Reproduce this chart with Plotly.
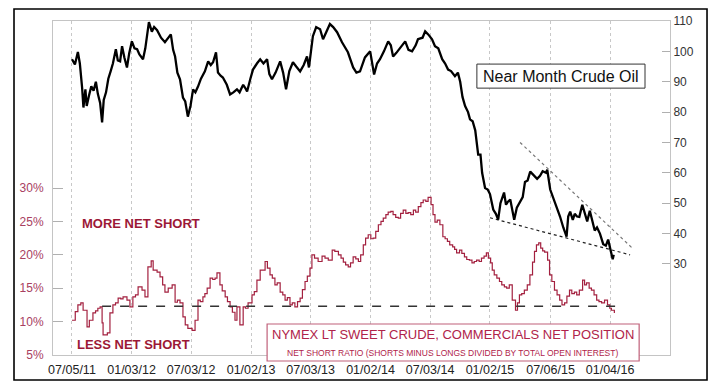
import plotly.graph_objects as go
import pandas as pd

# ---------------- data ----------------
tick_dates = ["2011-07-05", "2012-01-03", "2012-07-03", "2013-01-02", "2013-07-03",
              "2014-01-02", "2014-07-03", "2015-01-02", "2015-07-06", "2016-01-04"]
tick_labels = ["07/05/11", "01/03/12", "07/03/12", "01/02/13", "07/03/13",
               "01/02/14", "07/03/14", "01/02/15", "07/06/15", "01/04/16"]

oil_dates = ["2011-07-05","2011-07-14","2011-07-23","2011-07-29","2011-08-05","2011-08-09","2011-08-15","2011-08-19","2011-08-26","2011-09-02",
"2011-09-09","2011-09-16","2011-09-22","2011-09-29","2011-10-05","2011-10-10","2011-10-17","2011-10-24","2011-10-31","2011-11-07",
"2011-11-16","2011-11-22","2011-11-29","2011-12-05","2011-12-12","2011-12-20","2011-12-27","2012-01-04","2012-01-12","2012-01-20",
"2012-01-27","2012-02-07","2012-02-14","2012-02-25","2012-03-05","2012-03-12","2012-03-21","2012-04-02","2012-04-14","2012-04-22",
"2012-05-02","2012-05-09","2012-05-15","2012-05-22","2012-05-30","2012-06-08","2012-06-15","2012-06-23","2012-07-01","2012-07-09",
"2012-07-16","2012-07-24","2012-08-02","2012-08-14","2012-08-24","2012-09-01","2012-09-08","2012-09-17","2012-09-23","2012-10-01",
"2012-10-08","2012-10-20","2012-10-30","2012-11-09","2012-11-20","2012-11-28","2012-12-09","2012-12-15","2012-12-21","2012-12-31",
"2013-01-08","2013-01-20","2013-01-30","2013-02-09","2013-02-20","2013-02-27","2013-03-07","2013-03-18","2013-04-01","2013-04-10",
"2013-04-19","2013-04-29","2013-05-10","2013-05-20","2013-06-01","2013-06-12","2013-06-22","2013-06-28","2013-07-10","2013-07-20",
"2013-08-01","2013-08-10","2013-08-20","2013-08-31","2013-09-10","2013-09-22","2013-10-07","2013-10-25","2013-11-10","2013-11-20",
"2013-12-01","2013-12-16","2014-01-01","2014-01-13","2014-01-22","2014-01-31","2014-02-12","2014-02-25","2014-03-05","2014-03-12",
"2014-03-22","2014-04-05","2014-04-18","2014-04-28","2014-05-09","2014-05-20","2014-05-27","2014-06-10","2014-06-18","2014-06-28",
"2014-07-09","2014-07-18","2014-07-28","2014-08-09","2014-08-18","2014-08-27","2014-09-05","2014-09-17","2014-09-26","2014-10-03",
"2014-10-10","2014-10-18","2014-10-27","2014-11-02","2014-11-10","2014-11-18","2014-11-27","2014-12-04","2014-12-09","2014-12-18",
"2014-12-26","2015-01-02","2015-01-12","2015-01-20","2015-01-27","2015-02-03","2015-02-14","2015-02-20","2015-02-26","2015-03-05",
"2015-03-11","2015-03-17","2015-03-25","2015-04-04","2015-04-12","2015-04-19","2015-04-27","2015-05-05","2015-05-14","2015-05-26",
"2015-06-04","2015-06-12","2015-06-22","2015-06-26","2015-07-05","2015-07-12","2015-07-20","2015-07-28","2015-08-04","2015-08-14",
"2015-08-24","2015-08-29","2015-09-04","2015-09-12","2015-09-18","2015-09-25","2015-10-02","2015-10-11","2015-10-18","2015-10-26",
"2015-11-03","2015-11-10","2015-11-18","2015-11-25","2015-12-04","2015-12-14","2015-12-22","2015-12-29","2016-01-06","2016-01-12",
"2016-01-15"]
oil_values = [97.4,95.7,99.8,96.0,88.0,81.5,87.5,82.0,85.5,88.5,
87.0,90.0,86.0,83.0,76.6,84.0,86.5,91.0,93.4,96.0,
100.7,97.0,96.7,101.7,98.0,94.7,99.5,103.3,101.0,100.7,
99.0,97.4,101.0,109.6,106.5,108.0,107.0,104.5,103.0,104.0,
105.6,100.5,98.3,93.0,90.8,84.8,83.5,78.5,82.0,87.5,
86.5,88.4,91.0,93.4,96.7,95.5,96.4,99.7,93.0,92.0,
91.4,89.0,85.8,86.5,87.5,86.5,89.0,88.0,86.8,91.0,
94.0,96.0,97.4,96.0,97.4,92.5,90.8,93.0,96.7,93.0,
87.5,93.5,96.4,95.0,93.4,95.5,98.3,94.7,105.0,108.0,
107.3,104.0,106.5,109.0,108.0,106.3,103.0,99.7,94.7,93.0,
93.4,98.0,100.0,92.4,96.0,97.4,100.0,103.3,102.0,98.3,
99.5,101.5,103.3,100.5,100.0,102.0,104.0,104.5,106.6,105.5,
104.0,101.7,101.0,97.4,96.0,94.0,93.5,91.8,93.0,90.0,
85.0,82.0,80.0,77.6,77.0,74.0,66.0,66.0,60.0,55.0,
54.5,53.0,47.9,46.5,44.6,50.0,53.5,49.5,50.5,51.2,
48.0,44.5,48.5,50.5,52.0,57.0,57.5,60.4,59.5,58.0,
59.0,60.5,60.0,61.0,54.5,52.5,50.2,47.5,45.6,42.0,
39.0,45.6,47.2,44.5,46.5,45.6,45.5,49.5,46.5,44.0,
47.5,44.5,41.0,42.0,40.0,36.5,36.0,38.0,34.0,31.5,
33.0]

ratio_dates = ["2011-07-05","2011-07-15","2011-07-23","2011-08-01","2011-08-08","2011-08-20","2011-08-27","2011-09-07","2011-09-15","2011-09-22",
"2011-09-29","2011-10-05","2011-10-08","2011-10-21","2011-10-29","2011-11-07","2011-11-15","2011-11-23","2011-12-01","2011-12-08",
"2011-12-20","2011-12-29","2012-01-07","2012-01-15","2012-01-23","2012-02-04","2012-02-13","2012-02-22","2012-03-03","2012-03-09",
"2012-03-21","2012-03-30","2012-04-07","2012-04-14","2012-04-24","2012-05-06","2012-05-15","2012-05-22","2012-05-30","2012-06-08",
"2012-06-15","2012-06-23","2012-07-06","2012-07-15","2012-07-24","2012-07-31","2012-08-08","2012-08-14","2012-08-21","2012-08-30",
"2012-09-07","2012-09-14","2012-09-20","2012-09-29","2012-10-06","2012-10-15","2012-10-22","2012-10-30","2012-11-06","2012-11-14",
"2012-11-20","2012-11-29","2012-12-09","2012-12-16","2012-12-24","2013-01-05","2013-01-12","2013-01-20","2013-01-30","2013-02-05",
"2013-02-14","2013-02-21","2013-03-01","2013-03-08","2013-03-16","2013-03-23","2013-04-01","2013-04-09","2013-04-16","2013-04-23",
"2013-05-01","2013-05-08","2013-05-16","2013-05-24","2013-06-01","2013-06-08","2013-06-16","2013-06-23","2013-07-01","2013-07-07",
"2013-07-15","2013-07-26","2013-08-07","2013-08-16","2013-08-26","2013-09-07","2013-09-15","2013-09-26","2013-10-04","2013-10-11",
"2013-10-18","2013-10-26","2013-11-02","2013-11-10","2013-11-18","2013-11-26","2013-12-03","2013-12-11","2013-12-18","2013-12-26",
"2014-01-03","2014-01-10","2014-01-18","2014-01-26","2014-02-03","2014-02-10","2014-02-18","2014-02-25","2014-03-05","2014-03-12",
"2014-03-20","2014-03-28","2014-04-04","2014-04-12","2014-04-20","2014-04-27","2014-05-05","2014-05-13","2014-05-20","2014-05-28",
"2014-06-05","2014-06-12","2014-06-20","2014-06-27","2014-07-06","2014-07-12","2014-07-18","2014-07-25","2014-08-02","2014-08-11",
"2014-08-18","2014-08-25","2014-09-01","2014-09-10","2014-09-16","2014-09-22","2014-10-01","2014-10-08","2014-10-16","2014-10-23",
"2014-10-31","2014-11-08","2014-11-15","2014-11-22","2014-11-30","2014-12-07","2014-12-15","2014-12-22","2014-12-28","2015-01-04",
"2015-01-09","2015-01-15","2015-01-23","2015-01-31","2015-02-07","2015-02-15","2015-02-22","2015-03-02","2015-03-11","2015-03-21",
"2015-03-27","2015-04-02","2015-04-09","2015-04-17","2015-04-26","2015-05-04","2015-05-12","2015-05-18","2015-05-24","2015-05-31",
"2015-06-06","2015-06-12","2015-06-18","2015-06-27","2015-07-03","2015-07-10","2015-07-18","2015-07-26","2015-08-03","2015-08-10",
"2015-08-18","2015-08-25","2015-09-02","2015-09-09","2015-09-17","2015-09-24","2015-10-02","2015-10-12","2015-10-18","2015-10-24",
"2015-11-01","2015-11-08","2015-11-16","2015-11-24","2015-12-01","2015-12-09","2015-12-18","2015-12-27","2016-01-03","2016-01-08",
"2016-01-17"]
ratio_values = [10.2,11.5,12.5,12.8,11.7,9.2,10.2,11.3,11.6,12.0,
12.2,9.8,8.0,8.3,11.3,12.5,12.8,13.5,13.4,13.7,
13.2,12.2,13.7,14.0,15.2,14.7,13.7,18.2,19.1,17.7,
17.4,16.7,15.5,14.4,15.0,15.5,12.9,13.2,12.8,10.7,
9.5,9.0,8.7,10.2,13.2,13.0,13.7,14.2,15.0,16.5,
16.3,16.5,17.3,15.5,14.6,13.7,13.0,12.2,11.4,10.2,
12.2,9.5,12.2,12.0,12.8,14.0,14.5,16.2,17.7,17.7,
19.0,18.0,17.0,16.5,15.5,15.8,14.4,14.0,13.2,13.6,
12.5,12.8,12.2,13.0,13.5,14.8,16.0,16.8,18.0,20.0,
19.5,19.0,19.8,19.5,19.2,20.7,20.5,20.0,19.5,18.9,
18.5,18.2,18.8,19.7,19.4,19.0,20.0,21.5,22.5,23.0,
22.4,22.5,23.5,24.5,25.0,25.5,26.0,26.4,26.5,26.0,
25.6,25.5,26.2,26.7,26.2,26.3,26.0,26.7,26.4,27.2,
27.8,28.2,28.0,28.6,27.5,26.0,24.9,25.2,24.5,22.7,
22.4,22.0,21.5,21.2,20.8,20.3,20.7,20.2,19.7,19.3,
19.2,18.8,19.0,19.2,19.0,19.5,19.8,20.3,19.5,18.8,
17.7,17.0,16.5,16.0,15.5,15.2,15.0,15.5,13.2,11.7,
12.8,14.0,14.2,14.7,15.5,17.0,18.9,20.5,21.5,21.8,
21.0,20.6,20.4,19.2,17.0,16.0,14.7,14.0,13.2,12.5,
12.8,13.8,14.7,14.2,14.4,14.0,14.7,16.2,15.5,15.8,
15.0,14.7,14.0,13.2,13.0,12.8,13.2,12.5,12.0,11.7,
11.3]

level_dates = ["2011-10-05", "2016-02-10"]
level_values = [12.3, 12.3]

upper_trend_dates = ["2015-04-04", "2016-03-11"]
upper_trend_values = [70.0, 35.3]
lower_trend_dates = ["2015-01-02", "2016-03-05"]
lower_trend_values = [45.2, 33.0]

left_ticks = [5, 10, 15, 20, 25, 30]
right_ticks = [30, 40, 50, 60, 70, 80, 90, 100, 110]

# ---------------- figure ----------------
FONT = "Arial, Liberation Sans, sans-serif"
RED = "#a3203f"

fig = go.Figure()
fig.add_trace(go.Scatter(x=pd.to_datetime(ratio_dates), y=ratio_values, mode="lines",
                         line=dict(color=RED, width=1.2, shape="hv"), yaxis="y"))
fig.add_trace(go.Scatter(x=pd.to_datetime(level_dates), y=level_values, mode="lines",
                         line=dict(color="#333333", width=1.3, dash="dash"), yaxis="y"))
fig.add_trace(go.Scatter(x=pd.to_datetime(upper_trend_dates), y=upper_trend_values, mode="lines",
                         line=dict(color="#777777", width=1.2, dash="dot"), yaxis="y2"))
fig.add_trace(go.Scatter(x=pd.to_datetime(lower_trend_dates), y=lower_trend_values, mode="lines",
                         line=dict(color="#222222", width=1.2, dash="dot"), yaxis="y2"))
fig.add_trace(go.Scatter(x=pd.to_datetime(oil_dates), y=oil_values, mode="lines",
                         line=dict(color="black", width=2.3), yaxis="y2"))

fig.update_layout(
    width=712, height=392,
    margin=dict(l=53, r=42, t=21, b=37),
    paper_bgcolor="white", plot_bgcolor="white",
    showlegend=False, hovermode=False,
    font=dict(family=FONT),
    xaxis=dict(type="date", range=["2011-05-08", "2016-07-05"],
               tickvals=pd.to_datetime(tick_dates), ticktext=tick_labels,
               showgrid=True, gridcolor="#c8c8c8", griddash="dot", gridwidth=1,
               showline=True, linecolor="#c4c4c4", linewidth=1, mirror=True,
               ticks="", zeroline=False, ticklabelstandoff=3,
               tickfont=dict(size=12.5, color="#222222", family=FONT)),
    yaxis=dict(range=[5, 55], tickvals=left_ticks, ticktext=[f"{v}%" for v in left_ticks],
               ticks="inside", ticklen=10, tickcolor="#b0b0b0",
               showgrid=False, zeroline=False, showline=True, linecolor="#c4c4c4",
               tickfont=dict(size=12, color="#a8405f", family=FONT), ticklabelstandoff=6),
    yaxis2=dict(range=[0, 110], overlaying="y", side="right", tickvals=right_ticks,
                ticks="inside", ticklen=8, tickcolor="#b0b0b0",
                showgrid=False, zeroline=False, showline=True, linecolor="#c4c4c4",
                tickfont=dict(size=12, color="#333333", family=FONT), ticklabelstandoff=0),
)

shapes = [
    # outer frame
    dict(type="rect", xref="paper", yref="paper", x0=-0.0632, x1=1.0600, y0=-0.0749, y1=1.036,
         line=dict(color="black", width=1.6), fillcolor="rgba(0,0,0,0)", layer="above"),
    # oil legend box
    dict(type="rect", xref="paper", yref="paper", x0=0.687, x1=0.9595, y0=0.799, y1=0.871,
         line=dict(color="#333333", width=1), fillcolor="white", layer="above"),
    # cot legend box
    dict(type="rect", xref="paper", yref="paper", x0=0.347, x1=0.950, y0=-0.018, y1=0.0928,
         line=dict(color="#c0607a", width=1.2), fillcolor="white", layer="above"),
]
fig.update_layout(shapes=shapes)

annotations = [
    dict(text="Near Month Crude Oil", xref="paper", yref="paper", x=0.823, y=0.835,
         xanchor="center", yanchor="middle", showarrow=False,
         font=dict(size=16, color="#111111", family=FONT)),
    dict(text="NYMEX LT SWEET CRUDE, COMMERCIALS NET POSITION", xref="paper", yref="paper",
         x=0.648, y=0.0599, xanchor="center", yanchor="middle", showarrow=False,
         font=dict(size=13, color="#b0234a", family=FONT)),
    dict(text="NET SHORT RATIO (SHORTS MINUS LONGS DIVIDED BY TOTAL OPEN INTEREST)", xref="paper",
         yref="paper", x=0.648, y=0.0069, xanchor="center", yanchor="middle", showarrow=False,
         font=dict(size=8.5, color="#b0234a", family=FONT)),
    dict(text="<b>MORE NET SHORT</b>", xref="paper", yref="paper", x=0.0438, y=0.395,
         xanchor="left", yanchor="middle", showarrow=False,
         font=dict(size=13, color="#9c1836", family=FONT)),
    dict(text="<b>LESS NET SHORT</b>", xref="paper", yref="paper", x=0.0357, y=0.030,
         xanchor="left", yanchor="middle", showarrow=False,
         font=dict(size=13, color="#9c1836", family=FONT)),
]
fig.update_layout(annotations=annotations)

fig.write_html("out.html", config={"displayModeBar": False},
               post_script="document.body.style.margin='0';document.body.style.overflow='hidden';")
